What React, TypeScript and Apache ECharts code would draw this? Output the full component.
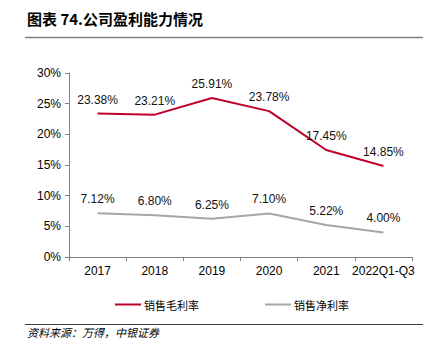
import React, { useEffect, useRef } from "react";
import * as echarts from "echarts";

const categories = ["2017", "2018", "2019", "2020", "2021", "2022Q1-Q3"];
const grossMargin = [23.38, 23.21, 25.91, 23.78, 17.45, 14.85];
const netMargin = [7.12, 6.8, 6.25, 7.1, 5.22, 4.0];
const yTicks = [0, 5, 10, 15, 20, 25, 30];

export default function App() {
  const ref = useRef<HTMLDivElement>(null);
  useEffect(() => {
    const chart = echarts.init(ref.current!, null, { renderer: "svg" });
    const font = "Arial, 'Liberation Sans', sans-serif";
    const labelCfg = {
      show: true,
      position: "top",
      distance: 8,
      color: "#111",
      fontSize: 12,
      fontFamily: font,
      formatter: (p: any) => p.value.toFixed(2) + "%",
    };
    chart.setOption({
      animation: false,
      graphic: [
        {
          type: "text",
          left: 27,
          top: 11,
          style: {
            text: "图表 74.公司盈利能力情况",
            font: "bold 15px 'Noto Sans CJK SC', sans-serif",
            fill: "#000",
          },
        },
        {
          type: "line",
          shape: { x1: 25, y1: 37.5, x2: 423, y2: 37.5 },
          style: { stroke: "#808080", lineWidth: 1.5 },
        },
        {
          type: "line",
          shape: { x1: 25, y1: 324.5, x2: 423, y2: 324.5 },
          style: { stroke: "#404040", lineWidth: 1 },
        },
        {
          type: "text",
          left: 27,
          top: 326,
          style: {
            text: "资料来源：万得，中银证券",
            font: "italic 11px 'Noto Sans CJK SC', sans-serif",
            fill: "#000",
          },
        },
      ],
      legend: {
        top: 294,
        left: 110,
        itemGap: 66,
        itemWidth: 26,
        itemHeight: 10,
        icon: "path://M0,4 L26,4 L26,6 L0,6 Z",
        textStyle: { fontSize: 11, color: "#000", fontFamily: "'Noto Sans CJK SC', sans-serif", padding: [0, 0, 0, -2] },
        data: [
          { name: "销售毛利率", itemStyle: { color: "#C0002A" } },
          { name: "销售净利率", itemStyle: { color: "#A6A6A6" } },
        ],
      },
      grid: { left: 69, right: 25, top: 73, bottom: 94 },
      xAxis: {
        type: "category",
        data: categories,
        boundaryGap: true,
        axisLine: { lineStyle: { color: "#808080", width: 1 } },
        axisTick: { show: true, inside: false, length: 4, interval: 0, lineStyle: { color: "#808080" } },
        axisLabel: { color: "#000", fontSize: 12, fontFamily: font, margin: 8, interval: 0 },
      },
      yAxis: {
        type: "value",
        min: 0,
        max: 30,
        interval: 5,
        axisLine: { show: true, lineStyle: { color: "#808080", width: 1 } },
        axisTick: { show: true, length: 4, lineStyle: { color: "#808080" } },
        splitLine: { show: false },
        axisLabel: {
          color: "#000",
          fontSize: 12,
          fontFamily: font,
          margin: 8,
          formatter: (v: number) => (yTicks.includes(v) ? v + "%" : ""),
        },
      },
      series: [
        {
          name: "销售毛利率",
          type: "line",
          data: grossMargin,
          symbol: "circle",
          symbolSize: 0,
          showSymbol: true,
          lineStyle: { color: "#C0002A", width: 2 },
          itemStyle: { color: "#C0002A" },
          label: labelCfg,
        },
        {
          name: "销售净利率",
          type: "line",
          data: netMargin,
          symbol: "circle",
          symbolSize: 0,
          showSymbol: true,
          lineStyle: { color: "#A6A6A6", width: 2 },
          itemStyle: { color: "#A6A6A6" },
          label: labelCfg,
        },
      ],
    });
    return () => chart.dispose();
  }, []);
  return <div ref={ref} style={{ width: 437, height: 351, margin: -8 }} />;
}
